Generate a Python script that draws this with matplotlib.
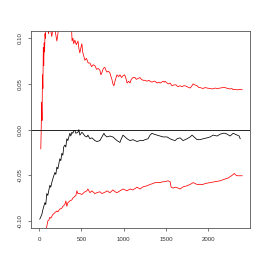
import numpy as np
import matplotlib
matplotlib.use("Agg")
import matplotlib.pyplot as plt

# upper bound (red)
up_x = [20, 25, 30, 35, 40, 45, 50, 55, 60, 65, 70, 75, 80, 90, 100, 110, 130, 150, 170,
        190, 210, 230, 250, 280, 300, 330, 360, 384, 390, 400, 410, 423, 440, 460, 470,
        482, 495, 506, 515, 530, 542, 560, 580, 601, 620, 640, 660, 680, 700, 719, 731,
        745, 755, 770, 778, 790, 802, 820, 838, 850, 861, 873, 885, 900, 921, 940, 956,
        975, 992, 1010, 1016, 1030, 1040, 1060, 1075, 1090, 1110, 1134, 1150, 1170, 1193,
        1210, 1230, 1252, 1275, 1300, 1312, 1335, 1360, 1371, 1394, 1415, 1430, 1450,
        1466, 1480, 1489, 1513, 1530, 1549, 1572, 1596, 1620, 1640, 1667, 1690, 1710,
        1726, 1750, 1786, 1800, 1821, 1840, 1868, 1890, 1904, 1939, 1960, 1990, 2022,
        2050, 2081, 2110, 2141, 2170, 2200, 2230, 2259, 2280, 2295, 2320, 2345, 2370, 2402]
up_y = [-0.021, 0.0, 0.03, 0.01, 0.06, 0.045, 0.09, 0.07, 0.095, 0.085, 0.105, 0.1, 0.115,
        0.11, 0.12, 0.105, 0.112, 0.102, 0.115, 0.108, 0.097, 0.11, 0.115, 0.108, 0.118,
        0.112, 0.115, 0.11, 0.097, 0.1, 0.094, 0.098, 0.093, 0.097, 0.089, 0.084, 0.09,
        0.094, 0.085, 0.08, 0.076, 0.078, 0.073, 0.073, 0.069, 0.071, 0.07, 0.066, 0.067,
        0.065, 0.06, 0.063, 0.066, 0.068, 0.068, 0.065, 0.063, 0.064, 0.062, 0.058, 0.055,
        0.05, 0.048, 0.054, 0.06, 0.058, 0.06, 0.057, 0.059, 0.06, 0.059, 0.055, 0.051,
        0.053, 0.051, 0.055, 0.057, 0.057, 0.055, 0.056, 0.057, 0.055, 0.054, 0.054,
        0.053, 0.054, 0.053, 0.052, 0.053, 0.053, 0.051, 0.052, 0.051, 0.052, 0.053,
        0.052, 0.053, 0.051, 0.05, 0.051, 0.048, 0.049, 0.049, 0.047, 0.048, 0.047, 0.048,
        0.048, 0.047, 0.0455, 0.047, 0.05, 0.049, 0.048, 0.046, 0.046, 0.045, 0.046,
        0.0455, 0.045, 0.0445, 0.0455, 0.045, 0.0455, 0.046, 0.046, 0.045, 0.0445, 0.045,
        0.0437, 0.044, 0.0435, 0.044, 0.0437]

# estimate (black)
mid_x = [8, 32, 44, 68, 79, 91, 103, 127, 138, 150, 162, 186, 198, 210, 222, 245, 257,
         269, 281, 291, 304, 316, 328, 340, 364, 375, 387, 399, 411, 423, 435, 459, 470,
         482, 506, 518, 542, 565, 577, 601, 625, 660, 684, 719, 743, 767, 778, 802, 838,
         873, 897, 921, 956, 968, 992, 1016, 1040, 1075, 1110, 1134, 1158, 1193, 1229,
         1252, 1288, 1312, 1335, 1359, 1394, 1430, 1466, 1489, 1513, 1549, 1572, 1608,
         1632, 1667, 1703, 1726, 1750, 1786, 1809, 1844, 1868, 1904, 1939, 1987, 2022,
         2058, 2105, 2141, 2176, 2200, 2224, 2259, 2295, 2318, 2342, 2366, 2378]
mid_y = [-0.098, -0.093, -0.088, -0.08, -0.082, -0.07, -0.072, -0.061, -0.063, -0.058,
         -0.054, -0.047, -0.049, -0.041, -0.043, -0.032, -0.034, -0.026, -0.028, -0.019,
         -0.017, -0.019, -0.01, -0.012, -0.004, -0.007, -0.003, -0.004, -0.001, -0.001,
         -0.004, -0.003, 0.0, -0.006, -0.003, -0.004, -0.007, -0.008, -0.006, -0.01,
         -0.009, -0.012, -0.013, -0.012, -0.008, -0.004, -0.006, -0.008, -0.007, -0.008,
         -0.01, -0.012, -0.014, -0.011, -0.006, -0.008, -0.01, -0.012, -0.011, -0.012,
         -0.013, -0.012, -0.012, -0.011, -0.01, -0.006, -0.004, -0.005, -0.006, -0.007,
         -0.008, -0.008, -0.008, -0.01, -0.011, -0.012, -0.01, -0.009, -0.012, -0.011,
         -0.01, -0.008, -0.006, -0.009, -0.011, -0.011, -0.01, -0.009, -0.008, -0.006,
         -0.007, -0.005, -0.004, -0.004, -0.005, -0.007, -0.004, -0.005, -0.006, -0.007,
         -0.01]

# lower bound (red)
lo_x = [79, 103, 115, 127, 138, 162, 186, 210, 222, 245, 269, 281, 304, 316, 328, 340,
        364, 387, 399, 423, 435, 447, 459, 482, 506, 518, 542, 565, 577, 601, 625, 636,
        660, 684, 719, 743, 767, 790, 802, 838, 873, 897, 921, 956, 992, 1016, 1040, 1075,
        1110, 1158, 1193, 1229, 1276, 1312, 1347, 1371, 1430, 1466, 1489, 1525, 1549,
        1561, 1584, 1608, 1644, 1667, 1703, 1750, 1786, 1821, 1868, 1904, 1939, 1963,
        2022, 2081, 2141, 2200, 2235, 2259, 2283, 2307, 2330, 2342, 2378, 2402]
lo_y = [-0.112, -0.1, -0.099, -0.096, -0.097, -0.093, -0.091, -0.089, -0.09, -0.087,
        -0.086, -0.084, -0.082, -0.078, -0.084, -0.08, -0.078, -0.077, -0.075, -0.073,
        -0.072, -0.067, -0.07, -0.07, -0.071, -0.07, -0.068, -0.067, -0.065, -0.069,
        -0.067, -0.068, -0.07, -0.069, -0.068, -0.07, -0.069, -0.068, -0.067, -0.069,
        -0.066, -0.068, -0.069, -0.067, -0.065, -0.066, -0.067, -0.065, -0.066, -0.063,
        -0.065, -0.0626, -0.0615, -0.06, -0.059, -0.058, -0.058, -0.057, -0.057, -0.056,
        -0.057, -0.063, -0.064, -0.063, -0.064, -0.065, -0.0626, -0.0615, -0.06, -0.058,
        -0.06, -0.06, -0.06, -0.059, -0.058, -0.057, -0.056, -0.054, -0.053, -0.0515,
        -0.05, -0.048, -0.05, -0.0505, -0.0505, -0.0505]

x_ticks = [0, 500, 1000, 1500, 2000]
y_ticks = [-0.10, -0.05, 0.00, 0.05, 0.10]

plt.rcParams['font.family'] = ['Liberation Sans', 'DejaVu Sans']

fig = plt.figure(figsize=(2.67, 2.67), dpi=100)
ax = fig.add_axes([0.116, 0.145, 0.821, 0.739])

ax.plot(mid_x, mid_y, color="black", lw=0.55)
ax.plot(up_x, up_y, color="red", lw=0.55)
ax.plot(lo_x, lo_y, color="red", lw=0.55)
ax.axhline(0, color="black", lw=0.6)

ax.set_xlim(-96, 2496)
ax.set_ylim(-0.108, 0.108)
ax.set_xticks(x_ticks)
ax.set_xticklabels([str(t) for t in x_ticks])
ax.set_yticks(y_ticks)
ax.set_yticklabels(["%.2f" % t for t in y_ticks], rotation=90, va="center")
ax.tick_params(labelsize=4.4, length=2.5, width=0.5, colors="#444444", pad=3.5)
ax.tick_params(labelcolor="#333333")
for s in ax.spines.values():
    s.set_linewidth(0.6)
    s.set_color("#555555")

fig.savefig("out.png", dpi=100)
